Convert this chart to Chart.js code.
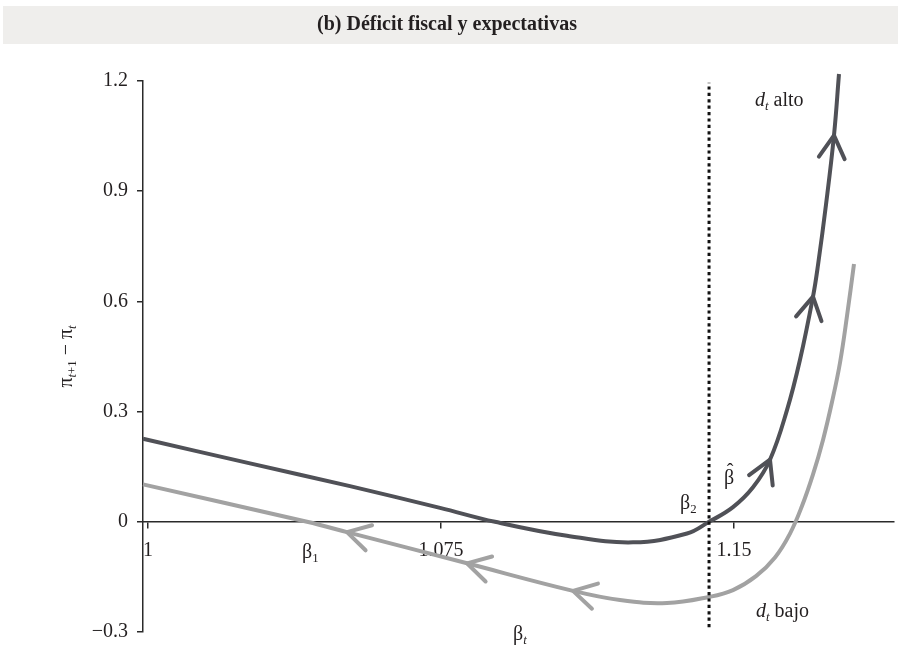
<!DOCTYPE html>
<html>
<head>
<meta charset="utf-8">
<script src="https://cdn.jsdelivr.net/npm/chart.js@4.4.1/dist/chart.umd.min.js"></script>
<style>
  html, body { margin: 0; padding: 0; background: #ffffff; }
  #wrap { width: 898px; height: 653px; }
</style>
</head>
<body>
<div id="wrap"><canvas id="chart" width="898" height="653"></canvas></div>
<script>
// Panel title and axis ranges
const titleText = '(b) Déficit fiscal y expectativas';
const xMin = 0.99872, xMax = 1.19094;
const yMin = -0.3, yMax = 1.2;

// Tick values and their printed labels
const xTickValues = [1, 1.075, 1.15];
const xTickLabels = ['1', '1.075', '1.15'];
const yTickValues = [-0.3, 0, 0.3, 0.6, 0.9, 1.2];
const yTickLabels = ['\u22120.3', '0', '0.3', '0.6', '0.9', '1.2'];

// Critical discount factors
const beta1 = 1.0407;
const beta2 = 1.1436;
const guideLow = -0.287, guideHigh = 1.195;

// High deficit path (d_t alto)
const altoX = [0.99872, 1.02611, 1.05170, 1.07474, 1.08881, 1.10724, 1.12414, 1.13796, beta2,
               1.14973, 1.15485, 1.15920, 1.16355, 1.16688, 1.17021, 1.17149, 1.17354, 1.17558, 1.17686];
const altoY = [0.226, 0.159, 0.097, 0.038, 0.0, -0.038, -0.056, -0.032, 0.0,
               0.040, 0.094, 0.169, 0.304, 0.441, 0.613, 0.699, 0.864, 1.052, 1.219];

// Low deficit path (d_t bajo)
const bajoX = [0.99872, beta1, 1.05093, 1.08165, 1.10878, 1.12081, 1.13284, 1.14384, 1.14973, 1.15562,
               1.16048, 1.16432, 1.16739, 1.17021, 1.17277, 1.17507, 1.17712, 1.17891, 1.18070];
const bajoY = [0.102, 0.0, -0.028, -0.113, -0.188, -0.213, -0.221, -0.204, -0.186, -0.148,
               -0.097, -0.032, 0.043, 0.129, 0.223, 0.326, 0.433, 0.560, 0.702];

// Where the direction arrows sit on each path
const altoArrowX = [1.15920, 1.17021, 1.17558];
const bajoArrowX = [1.05093, 1.08165, 1.10878];

// Text annotations in data coordinates: [x, y, runs]; run = [text, style] (i = italic, s = subscript)
const noteAlto = [1.15536, 1.1326, [['d', 'i'], ['t', 'is'], [' alto', '']]];
const noteBajo = [1.15562, -0.2583, [['d', 'i'], ['t', 'is'], [' bajo', '']]];
const noteBeta1 = [1.03942, -0.0982, [['\u03B2', ''], ['1', 's']]];
const noteBeta2 = [1.13616, 0.0361, [['\u03B2', ''], ['2', 's']]];
const noteBetaHat = [1.14743, 0.1022, [['\u03B2', '']]];
const noteXTitle = [1.09342, -0.3218, [['\u03B2', ''], ['t', 'is']]];
const yTitleRuns = [['\u03C0', ''], ['t', 'is'], ['+1', 's'], [' \u2212 ', ''], ['\u03C0', ''], ['t', 'is']];

const SERIF = '"Liberation Serif", "Times New Roman", serif';
const INK = '#231f20';
const DARK = '#505157';
const LIGHT = '#a2a2a2';

const zip = (xs, ys) => xs.map((x, i) => ({ x: x, y: ys[i] }));

function drawRuns(ctx, runs, x, y, size) {
  let cx = x;
  for (const [t, st] of runs) {
    const sub = st.includes('s');
    const fs = sub ? size * 0.64 : size;
    ctx.font = (st.includes('i') ? 'italic ' : '') + fs + 'px ' + SERIF;
    ctx.fillText(t, cx, y + (sub ? size * 0.2 : 0));
    cx += ctx.measureText(t).width;
  }
  return cx - x;
}
function runsWidth(ctx, runs, size) {
  let w = 0;
  for (const [t, st] of runs) {
    const sub = st.includes('s');
    const fs = sub ? size * 0.64 : size;
    ctx.font = (st.includes('i') ? 'italic ' : '') + fs + 'px ' + SERIF;
    w += ctx.measureText(t).width;
  }
  return w;
}

// Grey band behind the panel title
const bandPlugin = {
  id: 'band',
  beforeDraw(chart) {
    const ctx = chart.ctx;
    ctx.save();
    ctx.fillStyle = '#efeeec';
    ctx.fillRect(3, 6, chart.width - 3, 38);
    ctx.restore();
  }
};

// Open chevron arrowheads showing the direction of motion along each path
const arrowPlugin = {
  id: 'arrows',
  afterDatasetsDraw(chart) {
    const ctx = chart.ctx;
    chart.data.datasets.forEach((ds, di) => {
      if (!ds.arrowsAt) return;
      const pts = chart.getDatasetMeta(di).data;
      ds.arrowsAt.forEach(ax => {
        const i = ds.data.findIndex(p => Math.abs(p.x - ax) < 1e-9);
        if (i < 0) return;
        const p = pts[i];
        let dx = (p.cp2x ?? pts[i + 1].x) - (p.cp1x ?? pts[i - 1].x);
        let dy = (p.cp2y ?? pts[i + 1].y) - (p.cp1y ?? pts[i - 1].y);
        const n = Math.hypot(dx, dy) || 1;
        dx = dx / n * ds.arrowSense; dy = dy / n * ds.arrowSense;
        const back = Math.atan2(-dy, -dx);
        const len = 26, spread = 0.52;
        ctx.save();
        ctx.strokeStyle = ds.borderColor;
        ctx.lineWidth = 4;
        ctx.lineCap = 'round';
        ctx.lineJoin = 'round';
        ctx.beginPath();
        ctx.moveTo(p.x + len * Math.cos(back + spread), p.y + len * Math.sin(back + spread));
        ctx.lineTo(p.x, p.y);
        ctx.lineTo(p.x + len * Math.cos(back - spread), p.y + len * Math.sin(back - spread));
        ctx.stroke();
        ctx.restore();
      });
    });
  }
};

// Labels with italics and subscripts, plus the rotated y-axis title
const notesPlugin = {
  id: 'notes',
  afterDraw(chart) {
    const ctx = chart.ctx;
    const xs = chart.scales.x, ys = chart.scales.y;
    const size = 20;
    ctx.save();
    ctx.fillStyle = INK;
    ctx.textAlign = 'left';
    ctx.textBaseline = 'alphabetic';
    for (const [x, y, runs] of [noteAlto, noteBajo, noteBeta1, noteBeta2, noteBetaHat, noteXTitle]) {
      drawRuns(ctx, runs, xs.getPixelForValue(x), ys.getPixelForValue(y), size);
    }
    // circumflex over the beta-hat label
    const hx = xs.getPixelForValue(noteBetaHat[0]);
    const hy = ys.getPixelForValue(noteBetaHat[1]);
    ctx.font = size + 'px ' + SERIF;
    const bw = ctx.measureText('\u03B2').width;
    ctx.textAlign = 'center';
    ctx.fillText('\u02C6', hx + bw / 2 + 1, hy - 6);
    ctx.textAlign = 'left';

    // y-axis title, reading bottom to top
    const w = runsWidth(ctx, yTitleRuns, size);
    const cy = (chart.chartArea.top + chart.chartArea.bottom) / 2;
    ctx.translate(chart.chartArea.left - 71, cy);
    ctx.rotate(-Math.PI / 2);
    drawRuns(ctx, yTitleRuns, -w / 2, 0, size);
    ctx.restore();
  }
};

new Chart(document.getElementById('chart'), {
  type: 'line',
  data: {
    datasets: [
      {
        label: 'beta2',
        data: [{ x: beta2, y: guideLow }, { x: beta2, y: guideHigh }],
        borderColor: '#111111',
        borderWidth: 3,
        borderDash: [3.2, 3.2],
        borderCapStyle: 'butt',
        pointRadius: 0,
        clip: false
      },
      {
        label: 'd alto',
        data: zip(altoX, altoY),
        borderColor: DARK,
        borderWidth: 4,
        pointRadius: 0,
        tension: 0.4,
        capBezierPoints: false,
        clip: false,
        arrowsAt: altoArrowX,
        arrowSense: 1
      },
      {
        label: 'd bajo',
        data: zip(bajoX, bajoY),
        borderColor: LIGHT,
        borderWidth: 4,
        pointRadius: 0,
        tension: 0.4,
        capBezierPoints: false,
        clip: false,
        arrowsAt: bajoArrowX,
        arrowSense: -1
      }
    ]
  },
  options: {
    responsive: false,
    animation: false,
    devicePixelRatio: 1,
    layout: { padding: { left: 0, right: 4, top: 0, bottom: 15 } },
    plugins: {
      legend: { display: false },
      tooltip: { enabled: false },
      title: {
        display: true,
        text: titleText,
        color: INK,
        font: { family: SERIF, size: 20, weight: 'bold' },
        padding: { top: 13, bottom: 44 }
      }
    },
    scales: {
      x: {
        type: 'linear',
        min: xMin,
        max: xMax,
        position: { y: 0 },
        afterBuildTicks: s => { s.ticks = xTickValues.map(v => ({ value: v })); },
        ticks: {
          color: INK,
          font: { family: SERIF, size: 20 },
          padding: 11,
          maxRotation: 0,
          autoSkip: false,
          callback: v => xTickLabels[xTickValues.findIndex(t => Math.abs(t - v) < 1e-9)]
        },
        grid: { drawOnChartArea: false, drawTicks: true, tickLength: 6, color: '#2a2a2a', lineWidth: 1.5 },
        border: { display: true, color: '#2a2a2a', width: 1.5 }
      },
      y: {
        type: 'linear',
        min: yMin,
        max: yMax,
        position: 'left',
        afterBuildTicks: s => { s.ticks = yTickValues.map(v => ({ value: v })); },
        afterFit: s => { s.width = 143; },
        ticks: {
          color: INK,
          font: { family: SERIF, size: 20 },
          padding: 9,
          autoSkip: false,
          callback: v => yTickLabels[yTickValues.findIndex(t => Math.abs(t - v) < 1e-9)]
        },
        grid: { drawOnChartArea: false, drawTicks: true, tickLength: 6, color: '#2a2a2a', lineWidth: 1.5 },
        border: { display: true, color: '#2a2a2a', width: 1.5 }
      }
    }
  },
  plugins: [bandPlugin, arrowPlugin, notesPlugin]
});
</script>
</body>
</html>
